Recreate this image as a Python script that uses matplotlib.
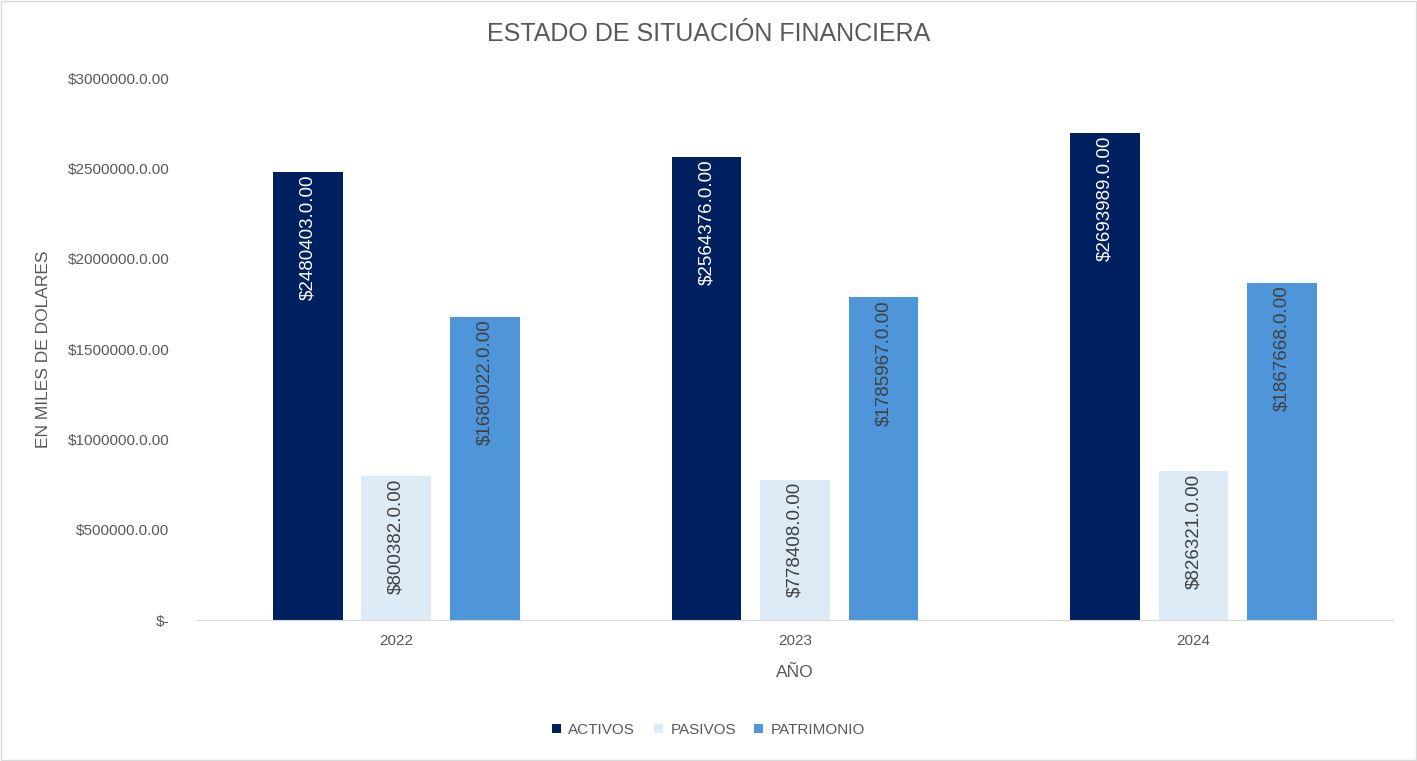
import matplotlib
matplotlib.use("Agg")
import matplotlib.pyplot as plt
import numpy as np

years = ["2022", "2023", "2024"]
activos = [2480403, 2564376, 2693989]
pasivos = [800382, 778408, 826321]
patrimonio = [1680022, 1785967, 1867668]
series = [("ACTIVOS", activos, "#002060", "white"),
          ("PASIVOS", pasivos, "#DDEBF7", "#404040"),
          ("PATRIMONIO", patrimonio, "#4E95D9", "#404040")]
yticks = [0, 500000, 1000000, 1500000, 2000000, 2500000, 3000000]

plt.rcParams["font.family"] = "Liberation Sans"
fig = plt.figure(figsize=(14.17, 7.61), dpi=100)
ax = fig.add_axes([0.139, 0.185, 0.844, 0.7125])
x = np.arange(len(years))
w = 0.175
off = 0.222
for i, (name, vals, col, tcol) in enumerate(series):
    xs = x + (i - 1) * off
    ax.bar(xs, vals, w, color=col, label=name)
    for xi, v in zip(xs, vals):
        ax.text(xi, v - 15000, f"${v}.0.00", rotation=90, ha="center", va="top",
                color=tcol, fontsize=13.5)
ax.set_xlim(-0.5, 2.5)
ax.set_ylim(0, 3000000)
ax.set_yticks(yticks)
ax.set_yticklabels(["$-" if t == 0 else f"${t}.0.00" for t in yticks])
ax.set_xticks(x)
ax.set_xticklabels(years)
for s in ["top", "right", "left"]:
    ax.spines[s].set_visible(False)
ax.spines["bottom"].set_color("#D9D9D9")
ax.tick_params(length=0, colors="#595959", labelsize=11)
ax.tick_params(axis="y", pad=20)
ax.tick_params(axis="x", pad=10)
ax.set_xlabel("AÑO", color="#595959", fontsize=12.5, labelpad=12)
ax.set_ylabel("EN MILES DE DOLARES", color="#595959", fontsize=12.5, labelpad=12)
fig.text(0.5, 0.955, "ESTADO DE SITUACIÓN FINANCIERA", ha="center", va="center",
         color="#595959", fontsize=18)
fig.legend(loc="center", bbox_to_anchor=(0.5, 0.041), ncol=3, frameon=False,
           fontsize=11, handlelength=0.6, handleheight=0.6, columnspacing=1.2,
           handletextpad=0.5, labelcolor="#595959")
fig.patches.append(plt.Rectangle((0.001, 0.001), 0.998, 0.998, transform=fig.transFigure,
                                 fill=False, edgecolor="#D9D9D9", lw=1))
fig.savefig("out.png", dpi=100)
